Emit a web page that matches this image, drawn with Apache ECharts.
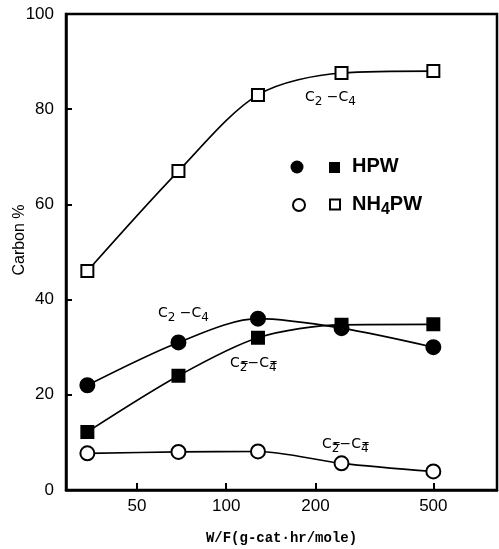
<!DOCTYPE html>
<html>
<head>
<meta charset="utf-8">
<script src="https://cdn.jsdelivr.net/npm/echarts@6/dist/echarts.min.js"></script>
<style>
html, body { margin: 0; padding: 0; background: #fff; }
#chart { width: 499px; height: 549px; }
</style>
</head>
<body>
<div id="chart"></div>
<script>
// W/F values (g-cat.hr/mole), log scale
var wf = [34, 69, 128, 245, 500];
// Carbon %
var hpwC2C4 = [22, 31, 36, 34, 30];          // filled circles
var hpwOlefin = [12.2, 24, 32, 34.7, 34.8];  // filled squares
var nh4C2C4 = [46, 67, 83, 87.6, 88];        // open squares
var nh4Olefin = [7.7, 8, 8.1, 5.6, 3.9];     // open circles
var xTicks = [50, 100, 200, 500];

function pairs(ys) {
    return wf.map(function (x, i) { return [x, ys[i]]; });
}

function lineSeries(name, ys, symbol, size) {
    return {
        name: name,
        type: 'line',
        data: pairs(ys),
        smooth: 0.3,
        symbol: symbol,
        symbolSize: size,
        showSymbol: true,
        lineStyle: { color: '#000', width: 1.6 },
        itemStyle: { color: '#000', borderColor: '#000', borderWidth: 2 },
        z: 3
    };
}

var subRich = {
    c: { fontFamily: 'DejaVu Sans', fontSize: 14, color: '#000' },
    s: { fontFamily: 'DejaVu Sans', fontSize: 12, color: '#000', padding: [9, 0, 0, 0] }
};

function note(x, y, str) {
    return {
        type: 'text', left: x, top: y,
        style: { text: str, rich: subRich, verticalAlign: 'middle' }
    };
}

var myChart = echarts.init(document.getElementById('chart'));

var option = {
    animation: false,
    backgroundColor: '#fff',
    grid: {
        left: 66, right: 2, top: 14, bottom: 59,
        outerBoundsMode: 'none',
        containLabel: false,
        show: true, borderColor: '#000', borderWidth: 2.5
    },
    xAxis: {
        type: 'log',
        logBase: 10,
        min: 28.8,
        max: 820,
        name: 'W/F(g-cat·hr/mole)',
        nameLocation: 'middle',
        nameGap: 41,
        nameTextStyle: { fontFamily: 'Liberation Mono', fontWeight: 'bold', fontSize: 14, color: '#000' },
        axisLine: { lineStyle: { color: '#000', width: 2.5 } },
        axisTick: { inside: true, length: 7, customValues: xTicks, lineStyle: { color: '#000', width: 2 } },
        axisLabel: { customValues: xTicks, color: '#000', fontSize: 17, fontFamily: 'Liberation Sans', margin: 8 },
        splitLine: { show: false },
        minorTick: { show: false }
    },
    yAxis: {
        type: 'value',
        min: 0,
        max: 100,
        interval: 20,
        name: 'Carbon %',
        nameLocation: 'middle',
        nameGap: 38,
        nameMoveOverlap: false,
        nameTextStyle: { fontFamily: 'Liberation Sans', fontSize: 16, color: '#000', padding: [0, 0, 0, 24] },
        axisLine: { lineStyle: { color: '#000', width: 2.5 } },
        axisTick: { inside: true, length: 6, lineStyle: { color: '#000', width: 2 } },
        axisLabel: { color: '#000', fontSize: 17, fontFamily: 'Liberation Sans', margin: 12 },
        splitLine: { show: false }
    },
    series: [
        lineSeries('HPW C2-C4', hpwC2C4, 'circle', 14),
        lineSeries('HPW C2=-C4=', hpwOlefin, 'rect', 12),
        lineSeries('NH4PW C2-C4', nh4C2C4, 'emptyRect', 12),
        lineSeries('NH4PW C2=-C4=', nh4Olefin, 'emptyCircle', 14)
    ],
    graphic: [
        note(305, 90, '{c|C}{s|2}{c| −C}{s|4}'),
        note(158, 306, '{c|C}{s|2}{c| −C}{s|4}'),
        note(230, 356, '{c|C}{s|2\u033f}{c|−C}{s|4\u033f}'),
        note(322, 437, '{c|C}{s|2\u033f}{c|−C}{s|4\u033f}'),
        // legend
        { type: 'circle', shape: { cx: 297, cy: 167, r: 6.5 }, style: { fill: '#000' } },
        { type: 'rect', shape: { x: 329, y: 162, width: 11, height: 11 }, style: { fill: '#000' } },
        {
            type: 'text', left: 352, top: 156,
            style: { text: 'HPW', fontFamily: 'Liberation Sans', fontWeight: 'bold', fontSize: 20, fill: '#000' }
        },
        { type: 'circle', shape: { cx: 299, cy: 205, r: 6 }, style: { fill: '#fff', stroke: '#000', lineWidth: 2 } },
        { type: 'rect', shape: { x: 330, y: 199.5, width: 10, height: 10 }, style: { fill: '#fff', stroke: '#000', lineWidth: 2 } },
        {
            type: 'text', left: 352, top: 194,
            style: {
                text: '{a|NH}{b|4}{a|PW}',
                rich: {
                    a: { fontFamily: 'Liberation Sans', fontWeight: 'bold', fontSize: 20, color: '#000' },
                    b: { fontFamily: 'Liberation Sans', fontWeight: 'bold', fontSize: 16, color: '#000', padding: [11, 0, 0, 0] }
                }
            }
        }
    ]
};

myChart.setOption(option);
</script>
</body>
</html>
